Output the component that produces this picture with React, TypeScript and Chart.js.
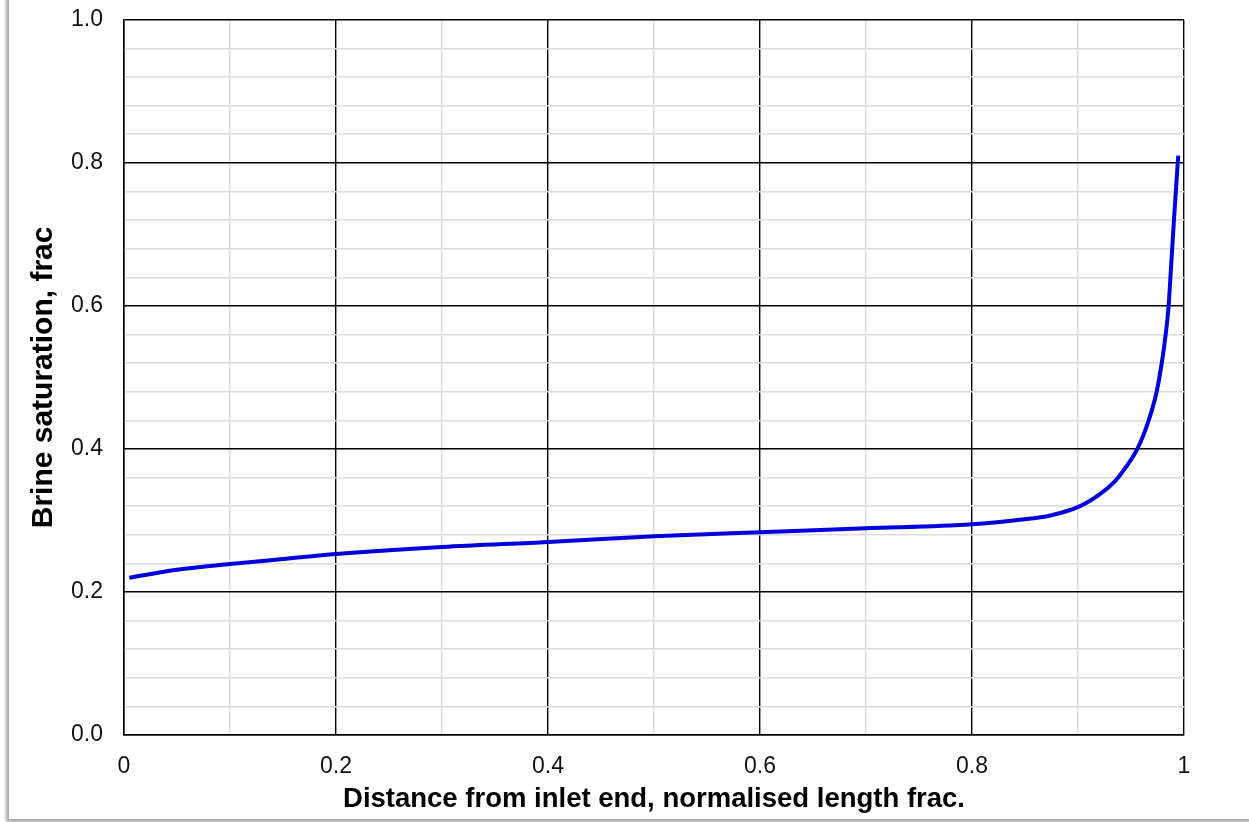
import React, { useEffect, useRef } from "react";
import { Chart, registerables } from "chart.js";

Chart.register(...registerables);

// Distance along the core (normalised length) and the brine saturation profile
const distanceFrac = [
  0.005, 0.05, 0.1, 0.15, 0.2, 0.3, 0.4, 0.5, 0.6, 0.7, 0.8, 0.845, 0.874,
  0.902, 0.921, 0.935, 0.943, 0.956, 0.9667, 0.9742, 0.979, 0.9827, 0.9855,
  0.9872, 0.9905, 0.9941, 0.9946,
];
const brineSaturation = [
  0.22, 0.231, 0.239, 0.246, 0.253, 0.263, 0.27, 0.278, 0.2835, 0.289, 0.2947,
  0.301, 0.307, 0.32, 0.337, 0.355, 0.37, 0.4, 0.44, 0.48, 0.52, 0.56, 0.6,
  0.64, 0.72, 0.8, 0.81,
];

const xLabeled = [0, 0.2, 0.4, 0.6, 0.8, 1];
const yLabeled = [0, 0.2, 0.4, 0.6, 0.8, 1];

const FONT = "'Liberation Sans', Arial, sans-serif";

// Canvas is taller than the page and shifted up, so the plot top sits near the edge
const CANVAS_SHIFT = 15;

const isMajor = (v: number) => Math.round(v * 1000) % 200 === 0;

export default function App() {
  const canvasRef = useRef<HTMLCanvasElement | null>(null);

  useEffect(() => {
    if (!canvasRef.current) return;
    const points = distanceFrac.map((x, i) => ({ x, y: brineSaturation[i] }));

    const gridColor = (c: any) => (isMajor(c.tick.value) ? "#000" : "#dcdcdc");
    const gridWidth = (c: any) => (isMajor(c.tick.value) ? 1.4 : 1.5);

    const chart = new Chart(canvasRef.current, {
      type: "line",
      data: {
        datasets: [
          {
            data: points,
            borderColor: "#0000dd",
            borderWidth: 4,
            pointRadius: 0,
            cubicInterpolationMode: "monotone",
            fill: false,
          },
        ],
      },
      options: {
        animation: false,
        responsive: false,
        maintainAspectRatio: false,
        layout: { padding: { left: 0, top: 5, right: 65, bottom: 0 } },
        plugins: { legend: { display: false }, tooltip: { enabled: false } },
        scales: {
          x: {
            type: "linear",
            min: 0,
            max: 1,
            afterFit: (s: any) => {
              s.height = 87;
            },
            ticks: {
              stepSize: 0.1,
              autoSkip: false,
              maxRotation: 0,
              padding: 18,
              color: "#111",
              font: { family: FONT, size: 23 },
              callback: (v: any) => {
                const n = Number(v);
                const hit = xLabeled.find((t) => Math.abs(t - n) < 1e-6);
                if (hit === undefined) return "";
                return hit === 0 || hit === 1 ? String(hit) : hit.toFixed(1);
              },
            },
            grid: { drawTicks: false, color: gridColor, lineWidth: gridWidth },
            border: { display: true, color: "#000", width: 1.5 },
            title: {
              display: true,
              text: "Distance from inlet end, normalised length frac.",
              color: "#000",
              font: { family: FONT, size: 27.5, weight: "bold" },
              padding: { top: 0, bottom: 6.5 },
            },
          },
          y: {
            type: "linear",
            min: 0,
            max: 1,
            afterFit: (s: any) => {
              s.width = 124;
            },
            ticks: {
              stepSize: 0.04,
              autoSkip: false,
              padding: 21,
              color: "#111",
              font: { family: FONT, size: 23 },
              callback: (v: any) => {
                const n = Number(v);
                const hit = yLabeled.find((t) => Math.abs(t - n) < 1e-6);
                return hit === undefined ? "" : hit.toFixed(1);
              },
            },
            grid: { drawTicks: false, color: gridColor, lineWidth: gridWidth },
            border: { display: true, color: "#000", width: 1.5 },
            title: {
              display: true,
              text: "Brine saturation, frac",
              color: "#000",
              font: { family: FONT, size: 30, weight: "bold" },
              padding: { top: 26, bottom: 0 },
            },
          },
        },
      },
    });

    return () => chart.destroy();
  }, []);

  return (
    <div
      style={{
        position: "fixed",
        left: 0,
        top: 0,
        width: 1249,
        height: 822,
        background: "#fff",
        overflow: "hidden",
      }}
    >
      <div
        style={{
          position: "absolute",
          left: 9,
          top: -20,
          width: 1300,
          height: 839,
          background: "#fff",
          boxShadow: "-3px 3px 3px rgba(0,0,0,0.35)",
        }}
      />
      <canvas
        ref={canvasRef}
        width={1249}
        height={822 + CANVAS_SHIFT}
        style={{
          position: "absolute",
          left: 0,
          top: -CANVAS_SHIFT,
          width: 1249,
          height: 822 + CANVAS_SHIFT,
        }}
      />
    </div>
  );
}
